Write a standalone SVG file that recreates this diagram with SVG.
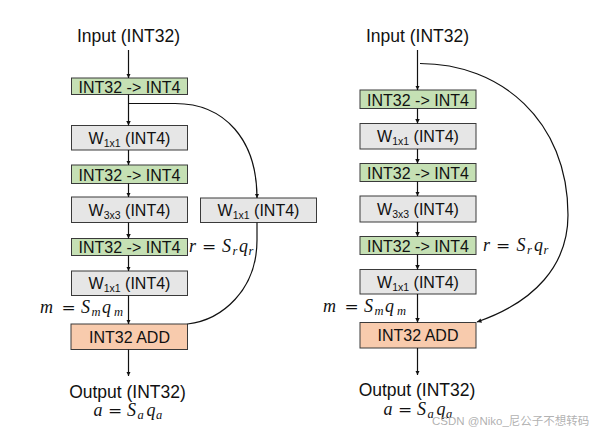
<svg xmlns="http://www.w3.org/2000/svg" width="592" height="435" viewBox="0 0 592 435">
<style>
  .box { stroke: #3a3a3a; stroke-width: 1; }
  .green { fill: #c5e0b4; }
  .gray { fill: #e6e6e6; }
  .peach { fill: #f8cbad; }
  .lbl { font-family: "Liberation Sans", Arial, sans-serif; font-size: 16px; fill: #111; text-anchor: middle; }
  .sub { font-size: 10.5px; }
  .io { font-family: "Liberation Sans", Arial, sans-serif; font-size: 17.5px; fill: #111; text-anchor: middle; }
  .math { font-family: "Liberation Serif", "Times New Roman", serif; font-size: 18px; fill: #111; font-style: italic; }
  .eq { font-family: "DejaVu Serif", serif; font-style: normal; font-size: 17px; }
  .msub { font-size: 12.5px; }
  .conn { fill: none; stroke: #111; stroke-width: 1.2; }
  .wm { font-family: "Liberation Sans", "Noto Sans CJK SC", sans-serif; font-size: 11.5px; fill: #a8a8a8; fill-opacity: 0.9; }
</style>
<defs>
  <marker id="ah" viewBox="0 0 8 8" refX="8" refY="4" markerWidth="4.5" markerHeight="4.5" markerUnits="userSpaceOnUse" orient="auto">
    <path d="M0,0 L8,4 L0,8 Z" fill="#111"/>
  </marker>
</defs>

<!-- Left diagram -->
<g id="L-input"><text class="io" x="128.5" y="42">Input (INT32)</text></g>
<g id="L-q1"><rect class="box green" x="71.5" y="78" width="116" height="16.5"/><text class="lbl" x="129.5" y="92.5">INT32 -&gt; INT4</text></g>
<g id="L-w1"><rect class="box gray" x="71.5" y="125.5" width="116" height="24.5"/><text class="lbl" x="129.5" y="143.5">W<tspan class="sub" dy="3">1x1</tspan><tspan dy="-3"> (INT4)</tspan></text></g>
<g id="L-q2"><rect class="box green" x="71.5" y="165" width="116" height="18.5"/><text class="lbl" x="129.5" y="180.5">INT32 -&gt; INT4</text></g>
<g id="L-w3"><rect class="box gray" x="71.5" y="197" width="116" height="25.5"/><text class="lbl" x="129.5" y="215.5">W<tspan class="sub" dy="3">3x3</tspan><tspan dy="-3"> (INT4)</tspan></text></g>
<g id="L-q3"><rect class="box green" x="71.5" y="238.5" width="116" height="17"/><text class="lbl" x="129.5" y="253">INT32 -&gt; INT4</text></g>
<g id="L-w4"><rect class="box gray" x="71.5" y="271" width="116" height="24.5"/><text class="lbl" x="129.5" y="289">W<tspan class="sub" dy="3">1x1</tspan><tspan dy="-3"> (INT4)</tspan></text></g>
<g id="L-add"><rect class="box peach" x="71" y="324" width="116.5" height="25.5"/><text class="lbl" x="129.5" y="342.5">INT32 ADD</text></g>
<g id="L-res"><rect class="box gray" x="200.5" y="198" width="116" height="24.5"/><text class="lbl" x="258.5" y="216">W<tspan class="sub" dy="3">1x1</tspan><tspan dy="-3"> (INT4)</tspan></text></g>
<g id="L-output"><text class="io" x="127.5" y="397.5">Output (INT32)</text></g>

<!-- Right diagram -->
<g id="R-input"><text class="io" x="417.5" y="42">Input (INT32)</text></g>
<g id="R-q1"><rect class="box green" x="360" y="90" width="116" height="18.5"/><text class="lbl" x="418" y="105.5">INT32 -&gt; INT4</text></g>
<g id="R-w1"><rect class="box gray" x="360" y="123.5" width="116" height="25.5"/><text class="lbl" x="418" y="142">W<tspan class="sub" dy="3">1x1</tspan><tspan dy="-3"> (INT4)</tspan></text></g>
<g id="R-q2"><rect class="box green" x="360" y="163.5" width="116" height="18"/><text class="lbl" x="418" y="178.5">INT32 -&gt; INT4</text></g>
<g id="R-w3"><rect class="box gray" x="360" y="196" width="116" height="26"/><text class="lbl" x="418" y="214.5">W<tspan class="sub" dy="3">3x3</tspan><tspan dy="-3"> (INT4)</tspan></text></g>
<g id="R-q3"><rect class="box green" x="360" y="236.5" width="116" height="18"/><text class="lbl" x="418" y="251.5">INT32 -&gt; INT4</text></g>
<g id="R-w4"><rect class="box gray" x="360" y="269.5" width="116" height="24.5"/><text class="lbl" x="418" y="287.5">W<tspan class="sub" dy="3">1x1</tspan><tspan dy="-3"> (INT4)</tspan></text></g>
<g id="R-add"><rect class="box peach" x="360" y="322.5" width="116" height="25.5"/><text class="lbl" x="418" y="341">INT32 ADD</text></g>
<g id="R-output"><text class="io" x="417" y="396">Output (INT32)</text></g>

<!-- Math labels -->
<g id="labels">
  <text class="math"><tspan x="189" y="251.5">r</tspan><tspan class="eq" x="202" y="251.5">=</tspan><tspan x="222" y="251.5">S</tspan><tspan class="msub" x="232.5" y="254.5">r</tspan><tspan x="239" y="251.5">q</tspan><tspan class="msub" x="248.5" y="254.5">r</tspan></text>
  <text class="math"><tspan x="40" y="313">m</tspan><tspan class="eq" x="61.5" y="313">=</tspan><tspan x="81" y="313">S</tspan><tspan class="msub" x="91.5" y="316">m</tspan><tspan x="102" y="313">q</tspan><tspan class="msub" x="114" y="316">m</tspan></text>
  <text class="math"><tspan x="93.5" y="416">a</tspan><tspan class="eq" x="108" y="416">=</tspan><tspan x="127" y="416">S</tspan><tspan class="msub" x="137.5" y="419">a</tspan><tspan x="146.5" y="416">q</tspan><tspan class="msub" x="156" y="419">a</tspan></text>
  <text class="math"><tspan x="483" y="251">r</tspan><tspan class="eq" x="496" y="251">=</tspan><tspan x="516.5" y="251">S</tspan><tspan class="msub" x="527" y="254">r</tspan><tspan x="534" y="251">q</tspan><tspan class="msub" x="543.5" y="254">r</tspan></text>
  <text class="math"><tspan x="323" y="311.5">m</tspan><tspan class="eq" x="344.5" y="311.5">=</tspan><tspan x="364" y="311.5">S</tspan><tspan class="msub" x="374.5" y="314.5">m</tspan><tspan x="385" y="311.5">q</tspan><tspan class="msub" x="397" y="314.5">m</tspan></text>
  <text class="math"><tspan x="383.5" y="415">a</tspan><tspan class="eq" x="398" y="415">=</tspan><tspan x="417" y="415">S</tspan><tspan class="msub" x="427.5" y="418">a</tspan><tspan x="436.5" y="415">q</tspan><tspan class="msub" x="446" y="418">a</tspan></text>
</g>

<!-- Connectors -->
<g id="connectors">
  <line class="conn" x1="128.5" y1="50" x2="128.5" y2="78" marker-end="url(#ah)"/>
  <line class="conn" x1="128.5" y1="94.5" x2="128.5" y2="125.5" marker-end="url(#ah)"/>
  <line class="conn" x1="128.5" y1="150" x2="128.5" y2="165" marker-end="url(#ah)"/>
  <line class="conn" x1="128.5" y1="183.5" x2="128.5" y2="197" marker-end="url(#ah)"/>
  <line class="conn" x1="128.5" y1="222.5" x2="128.5" y2="238.5" marker-end="url(#ah)"/>
  <line class="conn" x1="128.5" y1="255.5" x2="128.5" y2="271" marker-end="url(#ah)"/>
  <line class="conn" x1="128.5" y1="295.5" x2="128.5" y2="324" marker-end="url(#ah)"/>
  <line class="conn" x1="128.5" y1="349.5" x2="128.5" y2="376" marker-end="url(#ah)"/>
  <path class="conn" d="M128.5,103.5 L175,103.5 C225,103.5 257,140 257,198" marker-end="url(#ah)"/>
  <path class="conn" d="M257,222.5 L257,240 C257,290 222,320 187.5,324"/>

  <line class="conn" x1="417.5" y1="50" x2="417.5" y2="90" marker-end="url(#ah)"/>
  <line class="conn" x1="417.5" y1="108.5" x2="417.5" y2="123.5" marker-end="url(#ah)"/>
  <line class="conn" x1="417.5" y1="149" x2="417.5" y2="163.5" marker-end="url(#ah)"/>
  <line class="conn" x1="417.5" y1="181.5" x2="417.5" y2="196" marker-end="url(#ah)"/>
  <line class="conn" x1="417.5" y1="222" x2="417.5" y2="236.5" marker-end="url(#ah)"/>
  <line class="conn" x1="417.5" y1="254.5" x2="417.5" y2="269.5" marker-end="url(#ah)"/>
  <line class="conn" x1="417.5" y1="294" x2="417.5" y2="322.5" marker-end="url(#ah)"/>
  <line class="conn" x1="417.5" y1="348" x2="417.5" y2="375" marker-end="url(#ah)"/>
  <path class="conn" d="M420,63.5 C500,63.5 568,120 568,215 C568,265 535,302 477,322" marker-end="url(#ah)"/>
</g>

<text class="wm" x="432" y="424.5">CSDN @Niko_尼公子不想转码</text>
</svg>
